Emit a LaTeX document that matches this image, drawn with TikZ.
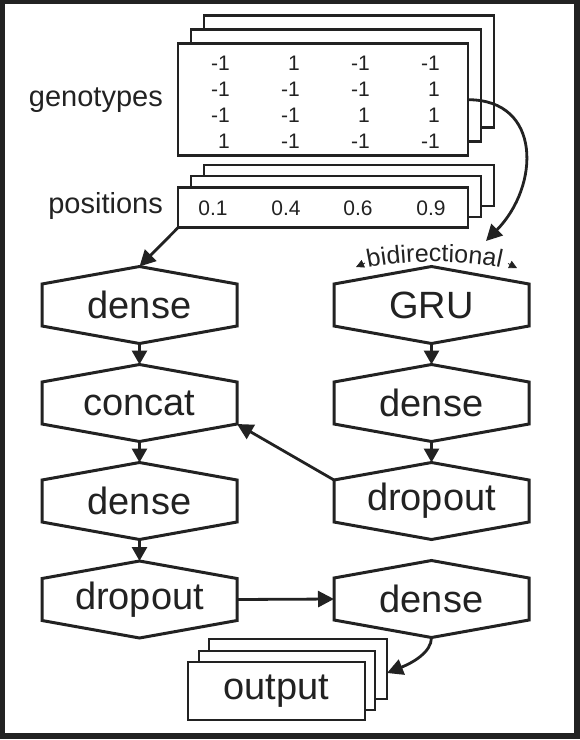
\documentclass[tikz,border=0pt]{standalone}
\usepackage{fontspec}
\setmainfont{Liberation Sans}
\usetikzlibrary{arrows.meta,decorations.text}
\definecolor{ink}{HTML}{222222}
\tikzset{
  boxline/.style={draw=ink, line width=2.8pt, fill=white, inner sep=0pt, outer sep=0pt, anchor=north west},
  hexline/.style={draw=ink, line width=3pt, fill=white, line join=miter},
  hextext/.style={font=\fontsize{38}{40}\selectfont, text=ink, inner sep=0pt},
  lbl/.style={font=\fontsize{29}{30}\selectfont, text=ink, inner sep=0pt, anchor=base east},
  num/.style={font=\fontsize{21}{22}\selectfont, text=ink, inner sep=0pt},
  conn/.style={draw=ink, line width=2.8pt, -{Triangle[length=16pt,width=16pt]}},
  vconn/.style={draw=ink, line width=2.8pt, -{Triangle[length=14pt,width=15pt]}},
  smalltip/.style={draw=ink, line width=0.8pt, -{Triangle[length=8pt,width=8pt]}},
}
% name, x, y, text
\newcommand{\hexnode}[4]{%
  \draw[hexline] (#2,#3-38.5) -- (#2+97.5,#3-21) -- (#2+97.5,#3+21) -- (#2,#3+38.5)
     -- (#2-97.5,#3+21) -- (#2-97.5,#3-21) -- cycle;
  \node[hextext] (#1) at (#2,#3) {#4};
  \coordinate (#1-t) at (#2,#3-38.5);
  \coordinate (#1-b) at (#2,#3+38.5);
  \coordinate (#1-l) at (#2-97.5,#3);
  \coordinate (#1-r) at (#2+97.5,#3);
  \coordinate (#1-ul) at (#2-97.5,#3-21);
  \coordinate (#1-lr) at (#2+97.5,#3+21);
}
\begin{document}
\begin{tikzpicture}[x=1pt,y=-1pt]
\useasboundingbox (0,0) rectangle (580,740);
\draw[ink, line width=5.5pt] (2.5,1.5) rectangle (577,736);

% genotypes stack
\node[boxline, minimum width=290pt, minimum height=112pt] (geno3) at (204,15.7) {};
\node[boxline, minimum width=290pt, minimum height=112pt] (geno2) at (191,29.7) {};
\node[boxline, minimum width=290pt, minimum height=112pt] (geno) at (178,43.7) {};
\node[lbl] (genolbl) at (163,106) {genotypes};
\foreach \v [count=\j] in {-1,1,-1,-1}
  \node[num, anchor=base east] (ga\j) at (160+70*\j,70) {\v};
\foreach \v [count=\j] in {-1,-1,-1,1}
  \node[num, anchor=base east] (gb\j) at (160+70*\j,96) {\v};
\foreach \v [count=\j] in {-1,-1,1,1}
  \node[num, anchor=base east] (gc\j) at (160+70*\j,122) {\v};
\foreach \v [count=\j] in {1,-1,-1,-1}
  \node[num, anchor=base east] (gd\j) at (160+70*\j,148) {\v};

% positions stack
\node[boxline, minimum width=290pt, minimum height=41pt] (pos3) at (204,165) {};
\node[boxline, minimum width=290pt, minimum height=41pt] (pos2) at (191,176) {};
\node[boxline, minimum width=290pt, minimum height=40pt] (pos) at (178,187.7) {};
\node[lbl] (poslbl) at (163,213) {positions};
\node[num, anchor=base] (p1) at (213,215) {0.1};
\node[num, anchor=base] (p2) at (286,215) {0.4};
\node[num, anchor=base] (p3) at (358,215) {0.6};
\node[num, anchor=base] (p4) at (431,215) {0.9};

% hexagons
\hexnode{L1}{139.5}{305}{dense}
\hexnode{L2}{139.5}{403}{concat}
\hexnode{L3}{139.5}{501}{dense}
\hexnode{L4}{139.5}{599.5}{dropout}
\hexnode{R1}{431.5}{305}{GRU}
\hexnode{R2}{431.5}{403}{dense}
\hexnode{R3}{431.5}{501}{dropout}
\hexnode{R4}{431.5}{599}{dense}

% bidirectional label
\path[decorate, decoration={text along path, text align=center,
   text={|\fontsize{25}{25}\selectfont\color{ink}|bidirectional}}]
   (364,269) .. controls (399,259.5) and (470,259.5) .. (505,269);
\coordinate (bidL) at (356,267);
\coordinate (bidR) at (517,268);
\draw[smalltip] (365,263) -- (bidL);
\draw[smalltip] (508,263.5) -- (bidR);

% output stack
\node[boxline, minimum width=178pt, minimum height=60pt] (out3) at (209,639) {};
\node[boxline, minimum width=176pt, minimum height=59pt] (out2) at (199,651) {};
\node[boxline, minimum width=177pt, minimum height=58pt, font=\fontsize{38}{40}\selectfont, text=ink] (out) at (188,662) {output};

% connectors
\coordinate (gruin) at (486,241);
\draw[conn] (geno.east) .. controls +(74,0) and +(54,-55) .. (gruin);
\draw[conn] (pos.south west) -- (L1-t);
\draw[vconn] (L1-b) -- (L2-t);
\draw[vconn] (L2-b) -- (L3-t);
\draw[vconn] (L3-b) -- (L4-t);
\draw[vconn] (R1-b) -- (R2-t);
\draw[vconn] (R2-b) -- (R3-t);
\draw[conn] (R3-ul) -- (L2-lr);
\draw[conn] (L4-r) -- (R4-l);
\draw[conn] (R4-b) .. controls +(0,15) and +(25,-10) .. ([yshift=-4pt]out3.east);
\end{tikzpicture}
\end{document}
